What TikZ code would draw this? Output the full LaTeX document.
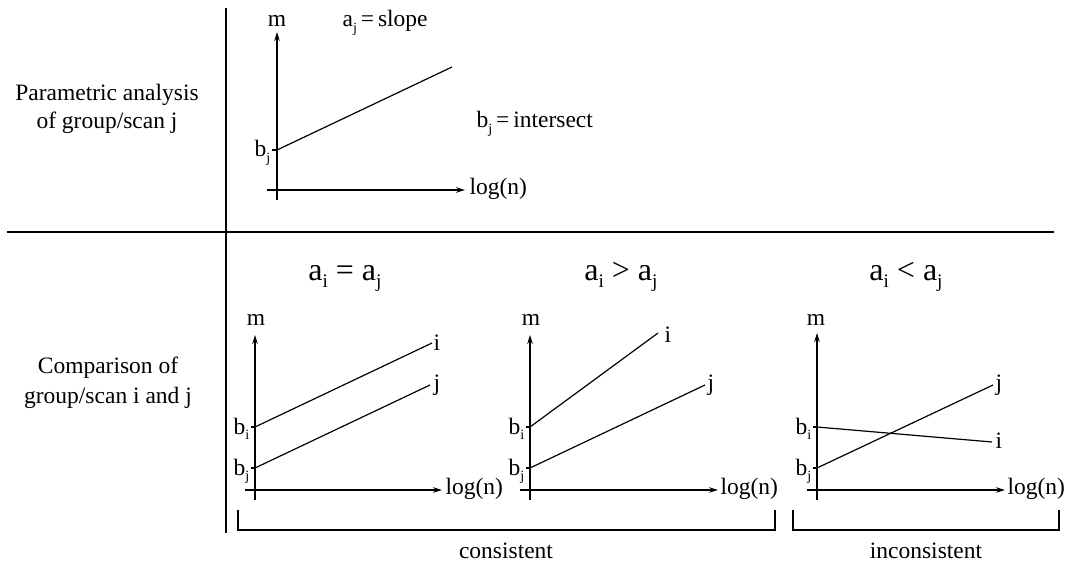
\documentclass[tikz,border=0pt]{standalone}
\usepackage{fontspec}
\usepackage{graphicx}
\setmainfont{Liberation Serif}
\usetikzlibrary{arrows.meta}
\newcommand\sbx[1]{\raisebox{-0.22em}{\scalebox{0.6}{#1}}}
\begin{document}
\begin{tikzpicture}[x=1pt,y=-1pt,line width=1.2pt,
  txt/.style={font=\fontsize{23.5}{28}\selectfont,inner sep=0pt},
  ttl/.style={font=\fontsize{32}{36}\selectfont,inner sep=0pt},
  axis/.style={-{Stealth[length=9pt,width=5.5pt]}},
  frame/.style={line width=1.6pt}]
\useasboundingbox (0,0) rectangle (1074,567);
% dividers
\coordinate (vt) at (226,8); \coordinate (vb) at (226,533);
\coordinate (hl) at (7,232); \coordinate (hr) at (1054,232);
\draw[frame] (vt) -- (vb);
\draw[frame] (hl) -- (hr);
% left labels
\node[txt,anchor=base] (l1a) at (107,101) {Parametric analysis};
\node[txt,anchor=base] (l1b) at (107,129) {of group/scan j};
\node[txt,anchor=base] (l2a) at (108,373) {Comparison of};
\node[txt,anchor=base] (l2b) at (108,403) {group/scan i and j};
% top plot
\coordinate (t-yb) at (277,200); \coordinate (t-yt) at (277,32);
\coordinate (t-xl) at (267,190); \coordinate (t-xr) at (465,190);
\draw[axis] (t-yb) -- (t-yt);
\draw[axis] (t-xl) -- (t-xr);
\node[txt,anchor=base] (t-m) at (277,27) {m};
\node[txt,anchor=base west] (t-log) at (469,194) {log(n)};
\coordinate (t-bj) at (277,150); \coordinate (t-bjt) at (272,150);
\draw (t-bjt) -- (t-bj);
\node[txt,anchor=base east] (t-bjl) at (271,157) {b\sbx{j}};
\coordinate (t-end) at (452,67);
\draw (t-bj) -- (t-end);
\node[txt,anchor=base west] (t-slope) at (342,27) {a\sbx{j}\,=\,slope};
\node[txt,anchor=base west] (t-int) at (476,128) {b\sbx{j}\,=\,intersect};
% titles
\node[ttl,anchor=base] (h1) at (345,280) {a\sbx{i} = a\sbx{j}};
\node[ttl,anchor=base] (h2) at (621,280) {a\sbx{i} > a\sbx{j}};
\node[ttl,anchor=base] (h3) at (906,280) {a\sbx{i} < a\sbx{j}};
% plot 1
\coordinate (p1-yb) at (255,500); \coordinate (p1-yt) at (255,335);
\coordinate (p1-xl) at (245,490); \coordinate (p1-xr) at (442,490);
\draw[axis] (p1-yb) -- (p1-yt);
\draw[axis] (p1-xl) -- (p1-xr);
\node[txt,anchor=base] (p1-m) at (256,325) {m};
\node[txt,anchor=base west] (p1-log) at (445,494) {log(n)};
\coordinate (p1-bi) at (255,427); \coordinate (p1-bit) at (251,427);
\coordinate (p1-bj) at (255,468); \coordinate (p1-bjt) at (251,468);
\draw (p1-bit) -- (p1-bi); \draw (p1-bjt) -- (p1-bj);
\node[txt,anchor=base east] (p1-bil) at (250,434) {b\sbx{i}};
\node[txt,anchor=base east] (p1-bjl) at (250,475) {b\sbx{j}};
\coordinate (p1-ie) at (432,343); \coordinate (p1-je) at (430,385);
\draw (p1-bi) -- (p1-ie); \draw (p1-bj) -- (p1-je);
\node[txt,anchor=base west] (p1-il) at (433,350) {i};
\node[txt,anchor=base west] (p1-jl) at (433,390) {j};
% plot 2
\coordinate (p2-yb) at (530,500); \coordinate (p2-yt) at (530,335);
\coordinate (p2-xl) at (520,490); \coordinate (p2-xr) at (718,490);
\draw[axis] (p2-yb) -- (p2-yt);
\draw[axis] (p2-xl) -- (p2-xr);
\node[txt,anchor=base] (p2-m) at (531,325) {m};
\node[txt,anchor=base west] (p2-log) at (720,494) {log(n)};
\coordinate (p2-bi) at (530,427); \coordinate (p2-bit) at (526,427);
\coordinate (p2-bj) at (530,468); \coordinate (p2-bjt) at (526,468);
\draw (p2-bit) -- (p2-bi); \draw (p2-bjt) -- (p2-bj);
\node[txt,anchor=base east] (p2-bil) at (525,434) {b\sbx{i}};
\node[txt,anchor=base east] (p2-bjl) at (525,475) {b\sbx{j}};
\coordinate (p2-ie) at (658,333); \coordinate (p2-je) at (705,385);
\draw (p2-bi) -- (p2-ie); \draw (p2-bj) -- (p2-je);
\node[txt,anchor=base west] (p2-il) at (664,342) {i};
\node[txt,anchor=base west] (p2-jl) at (707,390) {j};
% plot 3
\coordinate (p3-yb) at (817,500); \coordinate (p3-yt) at (817,333);
\coordinate (p3-xl) at (807,490); \coordinate (p3-xr) at (1005,490);
\draw[axis] (p3-yb) -- (p3-yt);
\draw[axis] (p3-xl) -- (p3-xr);
\node[txt,anchor=base] (p3-m) at (816,325) {m};
\node[txt,anchor=base west] (p3-log) at (1007,494) {log(n)};
\coordinate (p3-bi) at (817,427); \coordinate (p3-bit) at (813,427);
\coordinate (p3-bj) at (817,468); \coordinate (p3-bjt) at (813,468);
\draw (p3-bit) -- (p3-bi); \draw (p3-bjt) -- (p3-bj);
\node[txt,anchor=base east] (p3-bil) at (812,434) {b\sbx{i}};
\node[txt,anchor=base east] (p3-bjl) at (812,475) {b\sbx{j}};
\coordinate (p3-ie) at (992,442); \coordinate (p3-je) at (993,385);
\draw (p3-bi) -- (p3-ie); \draw (p3-bj) -- (p3-je);
\node[txt,anchor=base west] (p3-il) at (995,448) {i};
\node[txt,anchor=base west] (p3-jl) at (995,390) {j};
% brackets
\coordinate (c1a) at (238,510); \coordinate (c1b) at (238,530);
\coordinate (c1c) at (775,530); \coordinate (c1d) at (775,510);
\draw (c1a) -- (c1b) -- (c1c) -- (c1d);
\coordinate (c2a) at (793,510); \coordinate (c2b) at (793,530);
\coordinate (c2c) at (1059,530); \coordinate (c2d) at (1059,510);
\draw (c2a) -- (c2b) -- (c2c) -- (c2d);
\node[txt,anchor=base] (cons) at (506,558) {consistent};
\node[txt,anchor=base] (incons) at (926,558) {inconsistent};
\end{tikzpicture}
\end{document}
